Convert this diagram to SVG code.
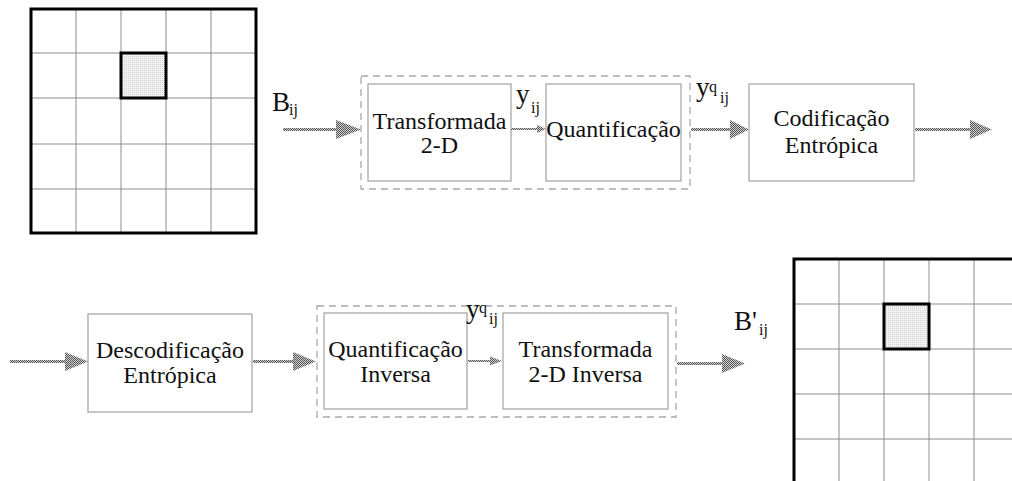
<svg xmlns="http://www.w3.org/2000/svg" width="1012" height="481" viewBox="0 0 1012 481">
  <defs>
    <!-- checkered texture used by the arrows -->
    <pattern id="hatch" width="2" height="2" patternUnits="userSpaceOnUse">
      <rect width="2" height="2" fill="#d0d0d0"/>
      <rect width="1" height="1" fill="#555"/>
      <rect x="1" y="1" width="1" height="1" fill="#555"/>
    </pattern>
    <!-- fine dotted fill of the selected block -->
    <pattern id="dots" width="2" height="2" patternUnits="userSpaceOnUse">
      <rect width="2" height="2" fill="#f2f2f2"/>
      <rect width="1" height="1" fill="#cfcfcf"/>
    </pattern>
  </defs>
  <style>
    .box { fill: #fff; stroke: #a8a8a8; stroke-width: 1.3; }
    .group { fill: none; stroke: #a8a8a8; stroke-width: 1.3; stroke-dasharray: 7 5; }
    .lbl { font-family: "Liberation Serif", "Times New Roman", serif; font-size: 24px; fill: #111; text-anchor: middle; }
    .var { font-family: "Liberation Serif", "Times New Roman", serif; font-size: 27px; fill: #111; }
    .sub { font-family: "Liberation Serif", "Times New Roman", serif; font-size: 16px; fill: #111; }
    .grid { stroke: #8c8c8c; stroke-width: 1; fill: none; }
    .frame { stroke: #000; stroke-width: 3; fill: none; }
    .sel { fill: url(#dots); stroke: #000; stroke-width: 3; }
    .shaft { fill: url(#hatch); }
    .head { fill: url(#hatch); }
  </style>

  <rect width="1012" height="481" fill="#fff"/>

  <!-- input image: 5x5 block grid -->
  <g id="image-in">
    <path class="grid" d="M76 9V233M121 9V233M166 9V233M211 9V233M31 53H256M31 98H256M31 144H256M31 189H256"/>
    <rect class="frame" x="31" y="9" width="225" height="224"/>
    <rect class="sel" x="121" y="53" width="45" height="45"/>
  </g>

  <!-- reconstructed image: block grid running past the canvas edge -->
  <g id="image-out">
    <path class="grid" d="M839 259V484M884 259V484M929 259V484M974 259V484M794 304H1019M794 349H1019M794 394H1019M794 439H1019"/>
    <path class="frame" d="M794 484V259H1019"/>
    <rect class="sel" x="884" y="304" width="45" height="45"/>
  </g>

  <!-- encoder -->
  <g id="encoder-group">
    <rect class="group" x="361" y="76" width="329" height="113"/>
  </g>
  <g id="transform">
    <rect class="box" x="368" y="84" width="143" height="97"/>
    <text class="lbl" x="439.5" y="129">Transformada</text>
    <text class="lbl" x="439.5" y="153">2-D</text>
  </g>
  <g id="quantize">
    <rect class="box" x="546" y="84" width="135" height="97"/>
    <text class="lbl" x="613.5" y="137">Quantificação</text>
  </g>
  <g id="entropy-enc">
    <rect class="box" x="749" y="84" width="165" height="97"/>
    <text class="lbl" x="831.5" y="126">Codificação</text>
    <text class="lbl" x="831.5" y="153">Entrópica</text>
  </g>

  <!-- decoder -->
  <g id="decoder-group">
    <rect class="group" x="317" y="306" width="359" height="111"/>
  </g>
  <g id="entropy-dec">
    <rect class="box" x="88" y="314" width="164" height="98"/>
    <text class="lbl" x="170" y="358">Descodificação</text>
    <text class="lbl" x="170" y="383">Entrópica</text>
  </g>
  <g id="dequantize">
    <rect class="box" x="324" y="313" width="143" height="96"/>
    <text class="lbl" x="395.5" y="357">Quantificação</text>
    <text class="lbl" x="395.5" y="382">Inversa</text>
  </g>
  <g id="inverse-transform">
    <rect class="box" x="503" y="313" width="165" height="96"/>
    <text class="lbl" x="585.5" y="357">Transformada</text>
    <text class="lbl" x="585.5" y="382">2-D Inversa</text>
  </g>

  <!-- connectors -->
  <g id="connectors">
    <rect class="shaft" x="283" y="128" width="56" height="3"/>
    <polygon class="head" points="336,120 361,129.5 336,139"/>

    <rect class="shaft" x="511" y="128" width="29" height="2"/>
    <polygon class="head" points="537,125 546,129 537,133"/>

    <rect class="shaft" x="691" y="128" width="41" height="3"/>
    <polygon class="head" points="730,120 749,129.5 730,139"/>

    <rect class="shaft" x="915" y="128" width="57" height="3"/>
    <polygon class="head" points="970,120 992,129.5 970,139"/>

    <rect class="shaft" x="10" y="360" width="57" height="3"/>
    <polygon class="head" points="65,352 88,361.5 65,371"/>

    <rect class="shaft" x="253" y="360" width="42" height="3"/>
    <polygon class="head" points="293,352 316,361.5 293,371"/>

    <rect class="shaft" x="468" y="360" width="25" height="2"/>
    <polygon class="head" points="490,356.5 502,361 490,365.5"/>

    <rect class="shaft" x="677" y="362" width="47" height="3"/>
    <polygon class="head" points="722,354 745,363.5 722,373"/>
  </g>

  <!-- signal labels -->
  <g id="labels">
    <text class="var" x="272" y="111">B</text>
    <text class="sub" x="289" y="115">ij</text>

    <text class="var" x="516" y="103">y</text>
    <text class="sub" x="531" y="113">ij</text>

    <text class="var" x="696" y="96">y</text>
    <text class="sub" x="709" y="92">q</text>
    <text class="sub" x="720" y="103">ij</text>

    <text class="var" x="466" y="318">y</text>
    <text class="sub" x="479" y="313">q</text>
    <text class="sub" x="489" y="324">ij</text>

    <text class="var" x="734" y="330">B'</text>
    <text class="sub" x="759" y="335">ij</text>
  </g>
</svg>
